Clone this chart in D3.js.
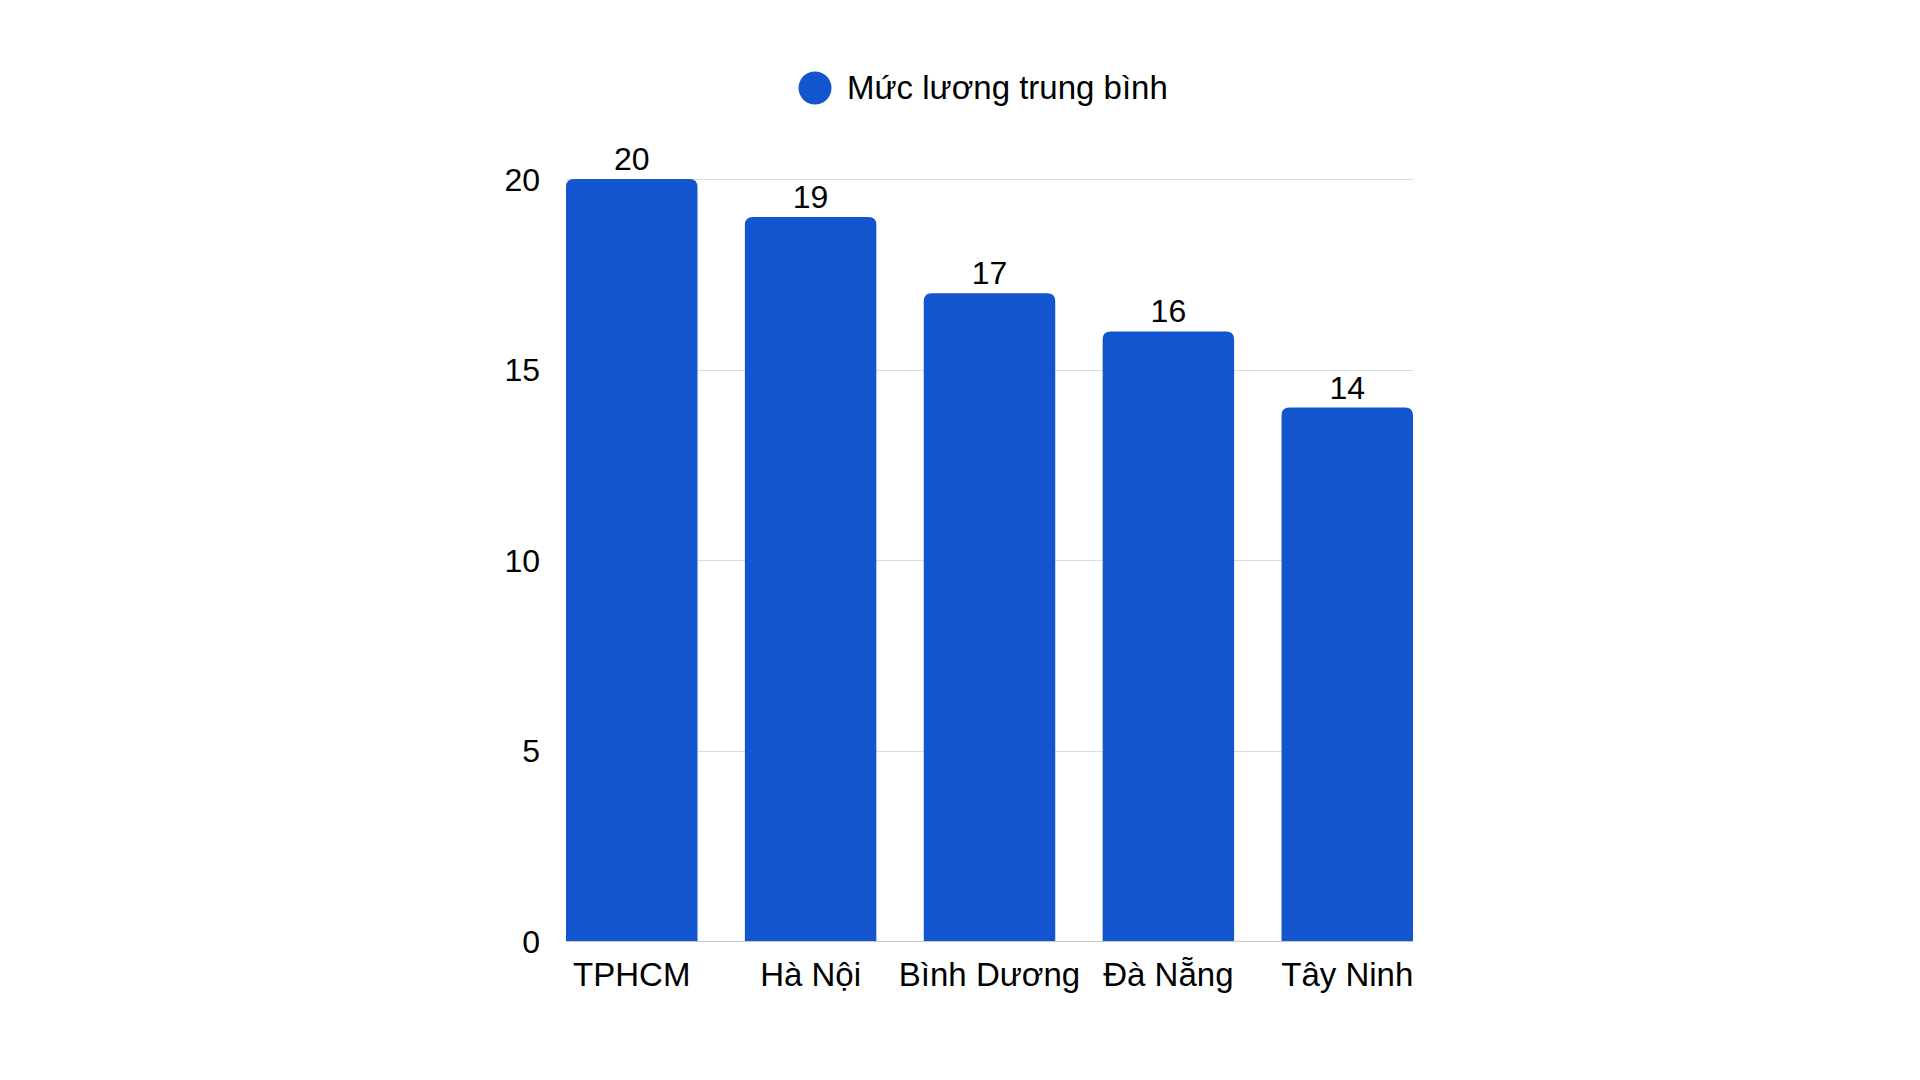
<!DOCTYPE html>
<html lang="vi">
<head>
    <meta charset="UTF-8">
    <title>Mức lương trung bình</title>
    <script src="https://d3js.org/d3.v7.min.js"></script>
    <style>
        body { margin: 0; background: #fff; }
        text { font-family: "Liberation Sans", Arial, sans-serif; fill: #000; }
        .grid line { stroke: #dcdcdc; stroke-width: 1px; }
        .bar { fill: #1355ce; }
    </style>
</head>
<body>
    <svg width="1920" height="1080"></svg>

    <script>
        // Data
        const cities = ["TPHCM", "Hà Nội", "Bình Dương", "Đà Nẵng", "Tây Ninh"];
        const salaries = [20, 19, 17, 16, 14];
        const yTicks = [0, 5, 10, 15, 20];
        const seriesName = "Mức lương trung bình";

        const width = 1920;
        const height = 1080;
        const plotLeft = 566, plotRight = 1413, plotTop = 179, plotBottom = 941;

        const svg = d3.select("svg")
            .attr("width", width)
            .attr("height", height);

        const x = d3.scaleBand()
            .domain(cities)
            .range([plotLeft, plotRight])
            .paddingInner(0.265)
            .paddingOuter(0);

        const y = d3.scaleLinear()
            .domain([0, 20])
            .range([plotBottom, plotTop]);

        // Grid lines
        svg.append("g")
            .attr("class", "grid")
            .selectAll("line")
            .data(yTicks)
            .enter()
            .append("line")
            .attr("x1", plotLeft)
            .attr("x2", plotRight)
            .attr("y1", d => Math.round(y(d)) + 0.5)
            .attr("y2", d => Math.round(y(d)) + 0.5)
            .style("stroke", d => d === 0 ? "#c8c8c8" : null);

        // Y tick labels
        svg.append("g")
            .selectAll("text")
            .data(yTicks)
            .enter()
            .append("text")
            .attr("x", plotLeft - 26)
            .attr("y", d => y(d))
            .attr("dy", "0.36em")
            .attr("text-anchor", "end")
            .style("font-size", "32px")
            .text(d => d);

        // Bars, rounded top corners only
        const r = 8;
        svg.append("g")
            .selectAll("path")
            .data(salaries)
            .enter()
            .append("path")
            .attr("class", "bar")
            .attr("d", (d, i) => {
                const x0 = x(cities[i]), x1 = x0 + x.bandwidth();
                const y0 = y(d), y1 = y(0);
                return `M${x0},${y1} V${y0 + r} Q${x0},${y0} ${x0 + r},${y0}` +
                       ` H${x1 - r} Q${x1},${y0} ${x1},${y0 + r} V${y1} Z`;
            });

        // Value labels
        svg.append("g")
            .selectAll("text")
            .data(salaries)
            .enter()
            .append("text")
            .attr("x", (d, i) => x(cities[i]) + x.bandwidth() / 2)
            .attr("y", d => y(d) - 9)
            .attr("text-anchor", "middle")
            .style("font-size", "32px")
            .text(d => d);

        // Category labels
        svg.append("g")
            .selectAll("text")
            .data(cities)
            .enter()
            .append("text")
            .attr("x", d => x(d) + x.bandwidth() / 2)
            .attr("y", 986)
            .attr("text-anchor", "middle")
            .style("font-size", "33px")
            .text(d => d);

        // Legend
        const legend = svg.append("g");
        legend.append("circle")
            .attr("cx", 815)
            .attr("cy", 88)
            .attr("r", 16.5)
            .attr("class", "bar");
        legend.append("text")
            .attr("x", 847)
            .attr("y", 99)
            .style("font-size", "33px")
            .text(seriesName);
    </script>
</body>
</html>
